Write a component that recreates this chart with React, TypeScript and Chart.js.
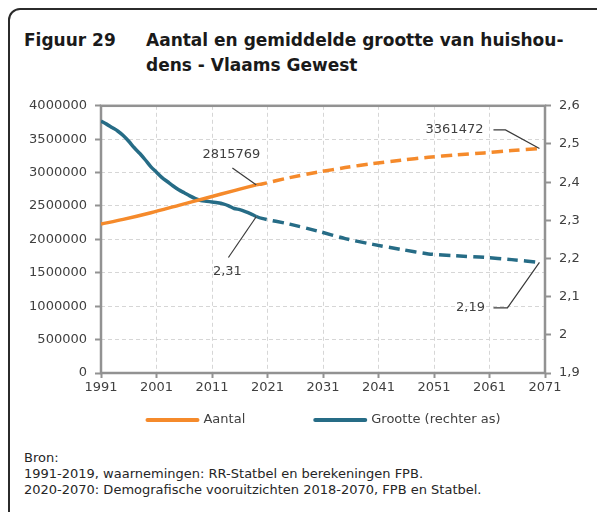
import React, { useEffect, useRef } from "react";
import { Chart, registerables } from "chart.js";

Chart.register(...registerables);

// ---------- data ----------
const X_TICKS = [1991, 2001, 2011, 2021, 2031, 2041, 2051, 2061, 2071];
const Y_LEFT_TICKS = [0, 500000, 1000000, 1500000, 2000000, 2500000, 3000000, 3500000, 4000000];
const Y_RIGHT_TICKS = [1.9, 2.0, 2.1, 2.2, 2.3, 2.4, 2.5, 2.6];

const AANTAL_YEARS = [1991, 1995, 2000, 2005, 2010, 2015, 2019, 2020, 2025, 2030, 2035, 2040, 2045, 2050, 2055, 2060, 2065, 2070];
const AANTAL_VALUES = [2230000, 2300000, 2400000, 2510000, 2620000, 2730000, 2815769, 2830000, 2925000, 3005000, 3075000, 3135000, 3185000, 3230000, 3265000, 3295000, 3330000, 3361472];

const GROOTTE_YEARS = [1991, 1992, 1993, 1994, 1995, 1996, 1997, 1998, 1999, 2000, 2001, 2002, 2003, 2004, 2005, 2006, 2007, 2008, 2009, 2010, 2011, 2012, 2013, 2014, 2015, 2016, 2017, 2018, 2019, 2020, 2025, 2030, 2035, 2040, 2045, 2050, 2055, 2060, 2065, 2070];
const GROOTTE_VALUES = [2.56, 2.552, 2.543, 2.534, 2.522, 2.507, 2.49, 2.475, 2.458, 2.44, 2.426, 2.412, 2.401, 2.39, 2.38, 2.372, 2.364, 2.357, 2.352, 2.35, 2.348, 2.346, 2.343, 2.338, 2.331, 2.328, 2.323, 2.317, 2.31, 2.305, 2.29, 2.272, 2.252, 2.237, 2.224, 2.212, 2.207, 2.203, 2.197, 2.19];

const PROJECTION_FROM = 2019;

const SERIES_LABELS = ["Aantal", "Grootte (rechter as)"];

const ANNOTATION_TEXTS = ["2815769", "2,31", "3361472", "2,19"];
const ANNOTATION_YEARS = [2019, 2019, 2070, 2070];
const ANNOTATION_VALUES = [2815769, 2.31, 3361472, 2.19];
const ANNOTATION_AXES = ["y", "y1", "y", "y1"];

// ---------- styles ----------
const ORANGE = "#F58A2B";
const BLUE = "#266C86";
const FRAME = "#929292";
const GRID = "#D6D6D6";
const TEXT = "#404040";
const FONT = '"DejaVu Sans", sans-serif';

const ANNOT_LAYOUT = [
  { path: [[0, 0], [-24, -17]], text: [-25, -30], align: "center" },
  { path: [[0, 0], [-28, 41]], text: [-29, 55], align: "center" },
  { path: [[0, 0], [-34, -18.5], [-46, -18.5]], text: [-56, -18.5], align: "right" },
  { path: [[0, 0], [-32, 45.5], [-46, 45.5]], text: [-54.5, 45.5], align: "right" },
];

const framePlugin = {
  id: "frame",
  beforeDatasetsDraw(chart: any) {
    const { ctx, chartArea: a } = chart;
    ctx.save();
    ctx.strokeStyle = FRAME;
    ctx.lineWidth = 2.5;
    ctx.strokeRect(a.left, a.top, a.right - a.left, a.bottom - a.top);
    ctx.restore();
  },
};

const annotationPlugin = {
  id: "annotations",
  afterDatasetsDraw(chart: any) {
    const { ctx } = chart;
    ctx.save();
    ctx.font = `13px ${FONT}`;
    ctx.fillStyle = TEXT;
    ctx.strokeStyle = "#3a3a3a";
    ctx.lineWidth = 1.2;
    ctx.textBaseline = "middle";
    ANNOTATION_TEXTS.forEach((txt, i) => {
      const ax = chart.scales.x.getPixelForValue(ANNOTATION_YEARS[i]);
      const ay = chart.scales[ANNOTATION_AXES[i]].getPixelForValue(ANNOTATION_VALUES[i]);
      const lay = ANNOT_LAYOUT[i];
      ctx.beginPath();
      lay.path.forEach(([dx, dy], k) => {
        if (k === 0) ctx.moveTo(ax + dx, ay + dy);
        else ctx.lineTo(ax + dx, ay + dy);
      });
      ctx.stroke();
      ctx.textAlign = lay.align;
      ctx.fillText(txt, ax + lay.text[0], ay + lay.text[1]);
    });
    ctx.restore();
  },
};

const legendPlugin = {
  id: "customLegend",
  afterDraw(chart: any) {
    const { ctx, chartArea } = chart;
    ctx.save();
    ctx.font = `13px ${FONT}`;
    const lineLen = 54;
    const gapText = 4;
    const gapItems = 68;
    const items = chart.data.datasets.map((ds: any) => ({
      label: ds.label,
      color: ds.borderColor,
      w: lineLen + gapText + ctx.measureText(ds.label).width,
    }));
    const total = items.reduce((s: number, it: any) => s + it.w, 0) + gapItems * (items.length - 1);
    let x = (chartArea.left + chartArea.right) / 2 - total / 2;
    const y = chartArea.bottom + 47;
    items.forEach((it: any) => {
      ctx.strokeStyle = it.color;
      ctx.lineWidth = 4;
      ctx.lineCap = "round";
      ctx.beginPath();
      ctx.moveTo(x + 2, y);
      ctx.lineTo(x + lineLen - 2, y);
      ctx.stroke();
      ctx.fillStyle = TEXT;
      ctx.textAlign = "left";
      ctx.textBaseline = "middle";
      ctx.fillText(it.label, x + lineLen + gapText, y);
      x += it.w + gapItems;
    });
    ctx.restore();
  },
};

const dashProjection = (ctx: any) => (ctx.p0.parsed.x >= PROJECTION_FROM ? [11, 6] : undefined);

export default function App() {
  const ref = useRef<HTMLCanvasElement>(null);

  useEffect(() => {
    if (!ref.current) return;
    const chart = new Chart(ref.current, {
      type: "line",
      data: {
        datasets: [
          {
            label: SERIES_LABELS[0],
            data: AANTAL_YEARS.map((yr, i) => ({ x: yr, y: AANTAL_VALUES[i] })),
            borderColor: ORANGE,
            backgroundColor: ORANGE,
            borderWidth: 3.5,
            pointRadius: 0,
            tension: 0.3,
            yAxisID: "y",
            segment: { borderDash: dashProjection },
          },
          {
            label: SERIES_LABELS[1],
            data: GROOTTE_YEARS.map((yr, i) => ({ x: yr, y: GROOTTE_VALUES[i] })),
            borderColor: BLUE,
            backgroundColor: BLUE,
            borderWidth: 3.5,
            pointRadius: 0,
            tension: 0.3,
            yAxisID: "y1",
            segment: { borderDash: dashProjection },
          },
        ],
      },
      options: {
        animation: false,
        responsive: false,
        devicePixelRatio: 1,
        events: [],
        layout: { padding: { top: 13, bottom: 37, left: 0, right: 0 } },
        plugins: { legend: { display: false }, tooltip: { enabled: false }, title: { display: false } },
        scales: {
          x: {
            type: "linear",
            min: 1991,
            max: 2071,
            afterBuildTicks: (s: any) => {
              s.ticks = X_TICKS.map((v) => ({ value: v }));
            },
            afterFit: (s: any) => {
              s.height = 30;
            },
            ticks: { color: TEXT, font: { family: FONT, size: 13 }, padding: 2, maxRotation: 0, autoSkip: false, callback: (v: any) => String(v) },
            grid: { color: GRID, lineWidth: 1, tickLength: 5, tickColor: FRAME, tickWidth: 2 },
            border: { display: false, dash: [4, 3] },
          },
          y: {
            type: "linear",
            position: "left",
            min: 0,
            max: 4000000,
            afterBuildTicks: (s: any) => {
              s.ticks = Y_LEFT_TICKS.map((v) => ({ value: v }));
            },
            afterFit: (s: any) => {
              s.width = 101;
            },
            ticks: { color: TEXT, font: { family: FONT, size: 13 }, padding: 8, callback: (v: any) => String(v) },
            grid: { color: GRID, lineWidth: 1, tickLength: 6, tickColor: FRAME, tickWidth: 2 },
            border: { display: false, dash: [4, 3] },
          },
          y1: {
            type: "linear",
            position: "right",
            min: 1.9,
            max: 2.6,
            afterBuildTicks: (s: any) => {
              s.ticks = Y_RIGHT_TICKS.map((v) => ({ value: v }));
            },
            afterFit: (s: any) => {
              s.width = 52;
            },
            ticks: {
              color: TEXT,
              font: { family: FONT, size: 13 },
              padding: 8,
              callback: (v: any) => String(Math.round(Number(v) * 10) / 10).replace(".", ","),
            },
            grid: { drawOnChartArea: false, tickLength: 6, tickColor: FRAME, tickWidth: 2 },
            border: { display: false },
          },
        },
      },
      plugins: [framePlugin, annotationPlugin, legendPlugin],
    } as any);
    return () => chart.destroy();
  }, []);

  return (
    <div
      style={{
        position: "fixed",
        left: 0,
        top: 0,
        right: 0,
        bottom: 0,
        overflow: "hidden",
        background: "#fff",
        fontFamily: FONT,
      }}
    >
      <div
        style={{
          position: "absolute",
          left: 8,
          top: 8,
          width: 700,
          height: 600,
          border: "2px solid #2b2b2b",
          borderTopLeftRadius: 12,
          boxSizing: "border-box",
        }}
      />
      <div
        style={{
          position: "absolute",
          left: 24,
          top: 28,
          fontWeight: "bold",
          fontSize: 17,
          lineHeight: "25px",
          color: "#1a1a1a",
          whiteSpace: "nowrap",
        }}
      >
        Figuur 29
      </div>
      <div
        style={{
          position: "absolute",
          left: 146,
          top: 28,
          fontWeight: "bold",
          fontSize: 17,
          lineHeight: "25px",
          color: "#1a1a1a",
          whiteSpace: "nowrap",
        }}
      >
        Aantal en gemiddelde grootte van huishou-
        <br />
        dens - Vlaams Gewest
      </div>
      <canvas
        ref={ref}
        width={597}
        height={350}
        style={{ position: "absolute", left: 0, top: 90, width: 597, height: 350 }}
      />
      <div
        style={{
          position: "absolute",
          left: 24,
          top: 450,
          fontSize: 13,
          lineHeight: "16px",
          color: "#262626",
          whiteSpace: "nowrap",
        }}
      >
        Bron:
        <br />
        1991-2019, waarnemingen: RR-Statbel en berekeningen FPB.
        <br />
        2020-2070: Demografische vooruitzichten 2018-2070, FPB en Statbel.
      </div>
    </div>
  );
}
